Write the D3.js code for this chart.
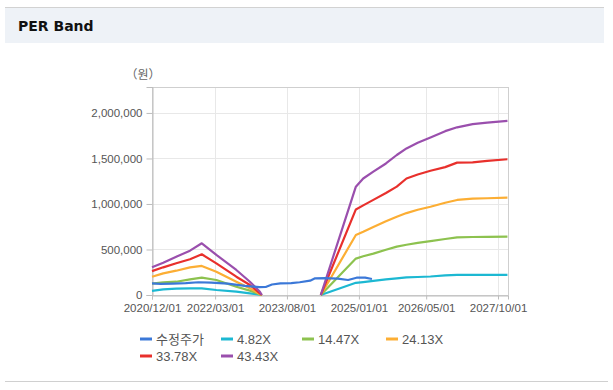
<!DOCTYPE html>
<html>
<head>
<meta charset="utf-8">
<script src="https://cdn.jsdelivr.net/npm/d3@7"></script>
<style>
  body { margin: 0; background: #fff; }
  svg text { font-family: "Liberation Sans", Arial, "Noto Sans CJK KR", sans-serif; }
</style>
</head>
<body>
<svg id="perBand" width="613" height="390"></svg>
<script>
// values (won)
var priceDates = ["2020-12-01", "2021-02-01", "2021-05-01", "2021-08-01", "2021-11-01", "2022-02-01",
  "2022-06-01", "2022-10-01", "2023-01-15", "2023-03-01", "2023-04-15", "2023-06-15", "2023-09-01",
  "2023-11-01", "2024-01-15", "2024-02-20", "2024-05-01", "2024-08-01", "2024-10-15", "2024-12-15",
  "2025-02-15", "2025-04-05"];
var priceValues = [128000, 122000, 125000, 130000, 140000, 135000, 125000, 100000, 87000, 88000,
  115000, 128000, 130000, 140000, 157000, 183000, 185000, 180000, 165000, 190000, 190000, 176000];

var bandDates = ["2020-12-01", "2021-02-20", "2021-05-25", "2021-09-01", "2021-11-25", "2022-03-10",
  "2022-08-01", "2022-11-07", "2023-01-18", "2023-02-01", null,
  "2024-04-01", "2024-12-10", "2025-02-01", "2025-04-15", "2025-07-15", "2025-10-01", "2025-12-10",
  "2026-03-01", "2026-06-01", "2026-09-15", "2026-12-10", "2027-04-01", "2027-07-15", "2027-12-08"];
var band482 = [45000, 62000, 70000, 73000, 73000, 55000, 37000, 18000, 3000, 0, null,
  0, 134000, 142000, 155000, 171000, 183000, 194000, 198000, 203000, 216000, 220000, 220000, 220000, 220000];
var band1447 = [125000, 139000, 146000, 172000, 190000, 165000, 91000, 48000, 7000, 0, null,
  0, 400000, 426000, 455000, 497000, 531000, 552000, 572000, 592000, 615000, 634000, 637000, 639000, 641000];
var band2413 = [200000, 238000, 267000, 304000, 319000, 256000, 146000, 73000, 11000, 0, null,
  0, 659000, 695000, 748000, 810000, 860000, 900000, 937000, 970000, 1013000, 1044000, 1058000, 1063000, 1069000];
var band3378 = [262000, 304000, 348000, 392000, 447000, 348000, 201000, 110000, 18000, 0, null,
  0, 940000, 985000, 1045000, 1120000, 1190000, 1280000, 1323000, 1365000, 1405000, 1454000, 1458000, 1473000, 1491000];
var band4343 = [305000, 355000, 421000, 487000, 568000, 440000, 275000, 146000, 36000, 0, null,
  0, 1190000, 1280000, 1355000, 1445000, 1538000, 1610000, 1672000, 1730000, 1800000, 1842000, 1878000, 1894000, 1912000];

var seriesNames = ["수정주가", "4.82X", "14.47X", "24.13X", "33.78X", "43.43X"];
var seriesColors = ["#3b78d8", "#1cb8d2", "#8dc24f", "#fcae34", "#e8302c", "#9a4fad"];
var yTicks = [0, 500000, 1000000, 1500000, 2000000];
var xTicks = ["2020-12-01", "2022-03-01", "2023-08-01", "2025-01-01", "2026-05-01", "2027-10-01"];

var parse = d3.timeParse("%Y-%m-%d");
var svg = d3.select("svg#perBand");

// header band
svg.append("rect").attr("x", 5).attr("y", 7).attr("width", 599).attr("height", 36).style("fill", "#eef2f7");
svg.append("line").attr("x1", 5).attr("x2", 604).attr("y1", 7.5).attr("y2", 7.5).style("stroke", "#d2d2d2");
svg.append("text").attr("x", 18).attr("y", 31).text("PER Band")
  .style("font-family", "'DejaVu Sans', sans-serif").style("font-weight", "bold").style("font-size", "14px").style("fill", "#111");
svg.append("line").attr("x1", 5).attr("x2", 608).attr("y1", 381.5).attr("y2", 381.5).style("stroke", "#d0d0d0");

var plotLeft = 152, plotRight = 508, plotTop = 87, plotBottom = 295;
var xScale = d3.scaleTime().domain([parse("2020-12-01"), parse("2027-12-12")]).range([plotLeft, plotRight]);
var yScale = d3.scaleLinear().domain([0, 2285000]).range([plotBottom, plotTop]);

// grid
xTicks.forEach(function (t) {
  var gxp = Math.round(xScale(parse(t))) + 0.5;
  svg.append("line").attr("x1", gxp).attr("x2", gxp)
    .attr("y1", plotTop).attr("y2", plotBottom).style("stroke", "#e8e8e8");
});
yTicks.forEach(function (t) {
  var gyp = Math.round(yScale(t)) + 0.5;
  svg.append("line").attr("x1", plotLeft).attr("x2", plotRight).attr("y1", gyp).attr("y2", gyp)
    .style("stroke", "#e8e8e8");
});
svg.append("rect").attr("x", plotLeft + 0.5).attr("y", plotTop + 0.5).attr("width", plotRight - plotLeft).attr("height", plotBottom - plotTop)
  .style("fill", "none").style("stroke", "#cfcfcf");

var leftAxis = d3.axisLeft(yScale).tickValues(yTicks).tickFormat(d3.format(",")).tickSize(6).tickPadding(4);
var gy = svg.append("g").attr("transform", "translate(" + (plotLeft + 0.5) + ",0)").call(leftAxis);
var bottomAxis = d3.axisBottom(xScale).tickValues(xTicks.map(parse)).tickFormat(d3.timeFormat("%Y/%m/%d")).tickSize(4).tickPadding(4);
var gx = svg.append("g").attr("transform", "translate(0," + (plotBottom + 0.5) + ")").call(bottomAxis);
[gy, gx].forEach(function (g) {
  g.select(".domain").style("stroke", "#bdbdbd");
  g.selectAll(".tick line").style("stroke", "#bdbdbd");
  g.selectAll("text").style("font-size", "11.5px").style("fill", "#555")
    .style("font-family", "'Liberation Sans', Arial, sans-serif");
});

svg.append("text").attr("x", 143).attr("y", 79).attr("text-anchor", "middle").text("（원）")
  .style("font-family", "'Noto Sans CJK KR', sans-serif").style("font-size", "12px").style("fill", "#666");

// lines
var line = d3.line()
  .defined(function (d) { return d[1] !== null; })
  .x(function (d) { return xScale(d[0]); })
  .y(function (d) { return yScale(d[1]); });

var bands = [band482, band1447, band2413, band3378, band4343];
var allSeries = [priceDates.map(function (d, i) { return [parse(d), priceValues[i]]; })];
bands.forEach(function (b) {
  allSeries.push(bandDates.map(function (d, i) { return [d ? parse(d) : null, b[i]]; }));
});

// bands first, price drawn last
[1, 2, 3, 4, 5, 0].forEach(function (k) {
  svg.append("path").datum(allSeries[k]).attr("d", line)
    .style("fill", "none").style("stroke", seriesColors[k]).style("stroke-width", 2.2)
    .style("stroke-linejoin", "round");
});

// legend
var legendPos = [[140, 339], [221, 339], [302, 339], [386, 339], [140, 356], [221, 356]];
seriesNames.forEach(function (name, i) {
  var p = legendPos[i];
  svg.append("line").attr("x1", p[0]).attr("x2", p[0] + 12).attr("y1", p[1]).attr("y2", p[1])
    .style("stroke", seriesColors[i]).style("stroke-width", 3);
  svg.append("text").attr("x", p[0] + 16).attr("y", p[1] + 5).text(name)
    .style("font-size", "13px").style("fill", "#555");
});
</script>
</body>
</html>
